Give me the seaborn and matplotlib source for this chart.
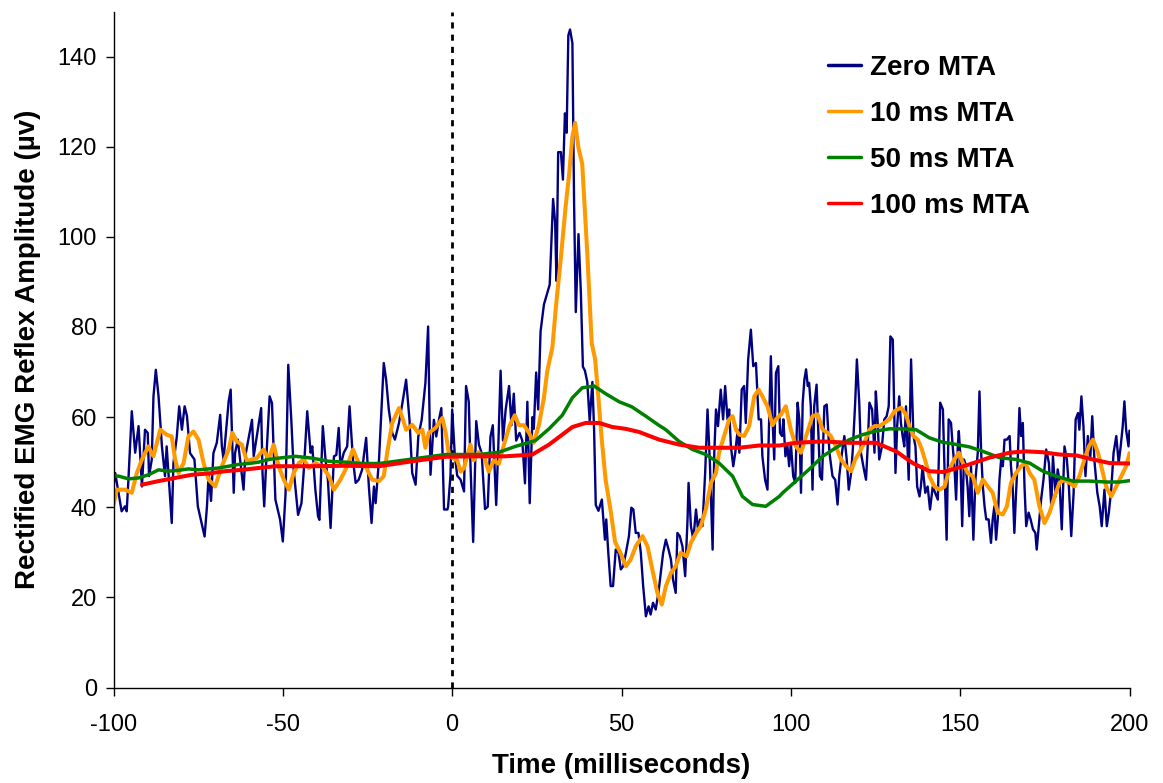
import matplotlib
matplotlib.use("Agg")
import matplotlib.pyplot as plt
import seaborn as sns
import numpy as np

# ---------------- data ----------------
zero_t = [-100.0, -99.5, -97.6, -96.6, -96.1, -95.6, -94.6, -93.6, -92.6, -91.6, -90.7, -89.9, -89.5, -88.7,
          -88.2, -87.5, -86.7, -85.7, -84.8, -84.3, -82.8, -82.3, -81.3, -80.6, -79.8, -79.0, -78.3, -77.4,
          -76.1, -75.1, -73.1, -72.4, -71.9, -71.2, -70.5, -69.5, -68.5, -68.0, -67.5, -66.0, -65.4, -64.5,
          -64.1, -63.3, -61.6, -61.1, -59.1, -58.6, -56.4, -56.0, -55.5, -54.7, -53.9, -53.2, -52.2, -50.8,
          -50.0, -49.2, -48.4, -47.5, -46.8, -45.5, -44.5, -43.8, -42.8, -41.8, -41.3, -40.4, -39.6, -39.2,
          -38.2, -37.4, -36.7, -35.9, -34.9, -34.2, -33.5, -33.0, -32.0, -31.0, -30.3, -29.3, -28.5, -27.6,
          -26.6, -25.4, -24.6, -23.8, -23.1, -22.6, -21.6, -20.2, -19.5, -18.7, -17.7, -16.9, -15.7, -14.7,
          -13.6, -12.6, -11.8, -10.8, -10.0, -9.0, -7.9, -7.1, -6.4, -5.4, -4.7, -3.9, -3.2, -2.4, -1.4,
          -1.2, -0.5, 0.0, 0.8, 1.5, 2.5, 3.5, 4.1, 4.9, 5.4, 6.2, 7.1, 7.9, 8.7, 9.7, 10.5, 11.3, 12.0,
          13.0, 13.6, 14.3, 15.0, 15.8, 16.8, 17.5, 18.2, 18.9, 19.9, 20.7, 21.5, 22.2, 22.9, 23.7, 24.1,
          24.8, 25.4, 26.1, 27.1, 28.1, 28.8, 29.8, 30.4, 30.8, 31.3, 32.1, 32.7, 33.3, 33.8, 34.3, 34.8,
          35.5, 36.0, 36.5, 37.3, 38.0, 38.6, 39.2, 39.9, 40.6, 41.4, 41.9, 42.4, 43.2,
          44.2, 45.1, 45.5, 46.1, 46.8, 47.5, 48.3, 49.1, 49.8, 50.5, 51.3, 52.2, 52.9, 53.5, 54.2, 55.0,
          55.7, 56.4, 57.2, 58.0, 58.6, 59.3, 60.1, 60.9, 61.6, 62.3, 63.1, 63.9, 64.6, 65.2, 66.0, 66.5,
          67.2, 68.0, 68.8, 69.5, 69.8, 70.5, 71.2, 72.0, 72.6, 73.2, 73.9, 74.7, 75.4, 76.1, 76.9, 77.4,
          77.9, 78.5, 79.3, 80.0, 80.6, 81.3, 81.8, 82.3, 83.0, 83.6, 84.3, 84.8, 85.5, 86.2, 86.7, 87.4,
          88.2, 88.9, 89.7, 90.5, 91.2, 91.6, 92.4, 93.1, 93.6, 94.1, 94.6, 95.1, 95.6, 96.3, 96.8, 97.4,
          97.8, 98.4, 99.0, 99.5, 100.0, 100.7, 101.3, 102.0, 102.5, 103.0, 103.5, 104.0, 104.5, 105.0,
          105.4, 105.9, 106.4, 106.9, 107.6, 108.2, 108.6, 109.2, 109.9, 110.6, 111.4, 112.3, 113.1, 113.8,
          114.3, 115.1, 115.8, 116.5, 117.1, 117.8, 118.3, 119.0, 119.5, 120.2, 120.7, 121.4, 122.2, 122.7,
          123.2, 124.0, 124.7, 125.1, 125.6, 126.1, 126.9, 127.6, 128.3, 128.9, 129.4, 130.1, 130.9, 131.4,
          132.0, 132.5, 133.0, 133.5, 134.0, 134.8, 135.5, 136.2, 136.8, 137.3, 138.0, 138.4, 138.9, 139.7,
          140.4, 141.1, 141.9, 142.6, 143.4, 144.1, 144.9, 145.3, 146.0, 146.6, 147.3, 147.8, 148.3, 148.8,
          149.3, 149.6, 150.0, 150.6, 151.1, 151.5, 152.2, 152.7, 153.2, 153.9, 154.5, 155.2, 155.7, 156.2,
          156.7, 157.2, 157.7, 158.4, 159.1, 159.6, 160.1, 160.6, 161.1, 161.6, 162.1, 162.6, 163.1, 163.8,
          164.6, 165.0, 165.5, 166.0, 166.5, 167.0, 167.5, 168.0, 168.5, 169.0, 169.5, 170.2, 170.8, 171.5,
          172.2, 172.6, 173.2, 173.9, 174.6, 175.4, 176.2, 176.9, 177.4, 178.2, 178.8, 179.3, 180.0, 180.8,
          181.5, 182.1, 182.8, 183.5, 184.1, 184.8, 185.2, 185.8, 186.4, 187.0, 187.7, 188.4, 189.0, 189.7,
          190.5, 191.2, 191.8, 192.6, 193.3, 193.9, 194.6, 195.3, 196.1, 196.8, 197.4, 198.0, 198.5, 199.0,
          199.7, 200.0]
zero_v = [44.6, 47.6, 39.1, 40.2, 39.1, 46.1, 61.3, 52.1, 58.0, 44.6, 57.2, 56.5, 46.9, 50.6,
          64.6, 70.5, 64.6, 53.5, 46.9, 53.5, 36.5, 49.8, 55.7, 62.4, 57.2, 62.4, 60.2, 52.0,
          50.6, 40.2, 33.5, 40.2, 47.6, 41.4, 52.0, 54.3, 60.5, 53.5, 50.6, 63.5, 66.1, 43.2,
          52.0, 55.0, 43.9, 51.3, 59.4, 51.3, 62.0, 47.6, 40.2, 53.5, 64.6, 63.1, 41.7, 37.2,
          32.4, 43.0, 71.6, 59.4, 48.3, 38.3, 40.9, 48.3, 61.3, 52.1, 53.5, 43.9, 38.0, 37.2,
          58.0, 50.6, 46.1, 35.4, 51.3, 51.6, 57.6, 49.1, 52.1, 53.5, 62.4, 50.6, 45.4, 46.1,
          48.3, 55.4, 44.6, 36.5, 44.6, 40.9, 50.6, 72.0, 68.3, 61.6, 56.5, 55.0, 58.7, 63.1,
          68.3, 59.4, 47.6, 45.0, 55.7, 59.4, 67.6, 80.1, 47.2, 59.4, 55.7, 59.4, 62.0, 39.5, 39.5,
          40.1, 47.0, 61.7, 51.3, 47.0, 46.1, 43.5, 66.9, 63.4, 49.6, 32.3, 59.1, 53.9, 52.0, 39.6, 40.1, 55.6, 58.2,
          40.5, 53.0, 70.3, 54.8, 61.7, 66.9, 58.2, 65.2, 54.8, 56.5, 54.8, 45.3, 63.4, 40.9, 60.0, 57.4,
          69.9, 61.7, 79.0, 85.0, 87.6, 89.4, 108.4, 103.2, 90.2, 118.8, 118.8, 112.7, 127.4, 123.1, 144.7, 146.0,
          143.0, 107.5, 83.3, 100.6, 87.6, 71.2, 70.3, 67.8, 59.1, 67.8, 57.4, 40.5, 39.2,
          41.7, 32.8, 37.3, 29.9, 22.5, 22.5, 30.6, 29.9, 26.2, 26.9, 29.9, 33.6, 39.9, 39.5, 34.3, 34.3,
          29.9, 22.5, 15.8, 18.0, 16.2, 18.8, 17.3, 21.0, 25.4, 29.9, 32.8, 30.6, 28.4, 24.0, 21.0, 34.3,
          33.6, 31.3, 24.7, 37.3, 45.4, 35.8, 32.8, 39.5, 35.0, 37.3, 35.8, 47.6, 61.7, 49.8, 30.6, 52.1,
          61.7, 58.0, 66.1, 59.5, 66.9, 59.5, 61.7, 53.5, 49.1, 52.1, 57.2, 52.1, 66.1, 66.9, 58.7, 72.8,
          79.4, 71.3, 72.0, 59.5, 59.5, 51.3, 46.1, 43.9, 59.5, 73.5, 59.5, 50.6, 69.8, 71.3, 56.5, 55.8,
          59.5, 51.3, 53.5, 49.1, 54.3, 46.9, 45.4, 63.2, 59.5, 43.2, 63.2, 68.3, 70.6, 66.9,
          67.6, 62.4, 43.9, 62.4, 67.2, 55.0, 46.9, 46.1, 62.4, 62.8, 52.1, 46.9, 46.1, 40.6,
          46.9, 52.1, 55.8, 50.6, 43.9, 47.6, 52.8, 63.2, 72.8, 63.2, 52.1, 49.1, 46.1, 53.5,
          63.2, 61.7, 52.1, 65.7, 59.5, 50.6, 53.5, 59.5, 60.2, 62.4, 77.9, 77.2, 47.6, 58.0,
          64.6, 58.7, 55.8, 53.5, 62.4, 46.1, 72.8, 55.8, 53.5, 44.6, 42.4, 44.6, 49.1, 43.2,
          44.6, 39.5, 44.6, 43.2, 41.7, 63.2, 61.7, 50.6, 32.8, 59.5, 58.7, 53.5, 49.1, 41.7,
          53.5, 56.9, 52.1, 35.8, 50.6, 49.8, 44.6, 38.0, 49.1, 32.8, 46.1, 52.1, 65.7, 52.1,
          44.6, 40.2, 37.3, 37.3, 32.1, 37.3, 40.2, 32.8, 37.3, 46.1, 50.6, 49.1, 55.0, 55.0,
          55.8, 49.1, 44.6, 34.3, 43.2, 50.6, 62.0, 55.8, 58.7, 44.6, 35.8, 38.8, 37.3, 35.1,
          34.3, 30.6, 35.8, 41.7, 46.1, 52.8, 49.8, 40.2, 51.3, 42.4, 48.4, 46.1, 35.1, 53.5,
          50.6, 44.6, 33.6, 43.2, 59.5, 60.9, 57.2, 64.6, 58.0, 46.9, 55.8, 50.6, 60.2, 49.8,
          43.2, 40.2, 35.8, 43.9, 35.8, 38.8, 43.9, 52.1, 55.8, 49.8, 53.5, 58.0, 63.5, 57.2,
          53.5, 57.0]

mta10_t = [-100.0, -99.0, -96.6, -94.6, -93.1, -91.6, -89.7, -88.2, -86.2, -84.3, -82.8, -81.8, -80.8,
           -79.3, -77.9, -76.4, -74.9, -73.4, -71.9, -70.0, -68.0, -66.0, -64.9, -63.6, -62.1, -60.6,
           -59.1, -57.7, -55.7, -54.2, -52.7, -51.2, -49.7, -48.2, -46.8, -45.3, -43.8, -42.3, -40.4,
           -38.4, -36.4, -34.9, -33.0, -31.0, -29.3, -27.6, -25.6, -23.6, -21.6, -20.2, -19.2, -17.7,
           -15.7, -14.5, -13.6, -11.8, -10.0, -8.8, -7.9, -6.9, -4.9, -2.9, -1.9, -1.0, 0.0, 1.5, 2.5,
           3.5, 4.4, 5.4, 6.4, 7.7, 9.4, 10.8, 12.3, 13.8, 15.3, 17.0, 18.5, 19.7, 21.2, 22.7, 24.1,
           25.6, 27.1, 28.1, 29.6, 30.6, 32.0, 33.5, 34.5, 35.5, 36.3, 37.3, 38.4, 39.9, 41.2, 42.2,
           42.9, 44.1, 45.3, 46.8, 48.1, 49.8, 51.3, 52.7, 54.2, 56.2, 57.7, 59.1, 60.6, 61.9, 63.1,
           64.6, 66.0, 67.5, 69.2, 70.5, 72.0, 73.4, 74.9, 76.4, 77.9, 78.8, 80.3, 81.8, 82.8, 83.8,
           84.8, 86.2, 87.7, 89.2, 90.5, 91.6, 93.1, 94.6, 95.6, 97.1, 98.5, 100.0, 101.5, 103.0,
           104.5, 106.4, 107.9, 109.4, 110.9, 111.8, 113.3, 114.8, 116.3, 117.8, 119.0, 120.2, 121.7,
           123.2, 124.7, 126.1, 127.6, 129.1, 130.6, 132.5, 134.0, 135.0, 136.2, 137.5, 138.7, 139.9,
           140.9, 142.4, 143.9, 145.4, 146.8, 148.3, 149.6, 150.8, 152.2, 153.7, 155.2, 156.7, 158.2,
           159.6, 161.1, 162.6, 163.8, 165.0, 166.5, 168.0, 169.3, 170.5, 171.9, 173.4, 174.9, 176.4,
           177.9, 179.3, 180.8, 182.3, 183.8, 185.2, 186.7, 188.0, 189.2, 190.7, 191.9, 193.1, 194.6,
           196.1, 197.6, 199.0, 200.0]
mta10_v = [40.6, 43.9, 43.9, 43.2, 47.6, 50.6, 53.5, 51.3, 57.2, 56.1, 55.7, 50.6, 47.6,
           49.8, 55.7, 56.8, 55.0, 49.8, 46.1, 44.6, 49.1, 52.8, 56.5, 54.6, 53.9, 50.2,
           50.6, 50.9, 52.8, 50.6, 53.9, 49.0, 46.1, 43.9, 47.6, 49.8, 50.6, 48.7, 49.8,
           49.1, 46.9, 43.9, 46.1, 49.1, 52.8, 49.8, 49.1, 46.1, 45.8, 46.9, 52.0, 58.7,
           62.0, 59.4, 57.2, 58.3, 56.5, 57.2, 53.2, 56.5, 57.6, 59.8, 56.5, 52.0, 51.0, 50.4, 47.9,
           48.7, 51.3, 53.9, 50.4, 52.2, 51.3, 47.9, 50.4, 49.6, 53.9, 58.2, 60.4, 58.2, 58.2, 56.5, 54.3,
           58.2, 64.3, 70.3, 75.5, 84.2, 94.6, 106.7, 113.6, 122.2, 125.3, 119.7, 116.2, 96.3, 76.4, 72.9,
           66.9, 55.6, 46.1, 39.2, 32.3, 29.7, 26.9, 28.4, 31.3, 33.6, 31.3, 26.2, 21.0, 18.4, 22.5,
           25.4, 26.9, 29.9, 29.1, 32.1, 34.3, 35.8, 39.5, 45.4, 47.6, 52.1, 55.8, 59.5, 60.2, 57.2,
           56.1, 55.8, 58.0, 64.6, 66.1, 64.6, 62.4, 58.2, 59.5, 60.6, 62.4, 57.2, 53.5, 52.1,
           55.8, 60.2, 60.6, 57.2, 56.5, 55.8, 53.5, 50.6, 49.1, 48.0, 50.6, 52.1, 54.3,
           57.2, 58.0, 58.0, 58.7, 59.5, 61.3, 62.1, 60.6, 58.0, 55.8, 55.0, 52.8, 49.8,
           46.9, 44.6, 43.9, 44.6, 48.4, 50.6, 52.1, 49.8, 47.6, 46.9, 43.2, 46.1, 44.6,
           43.2, 38.8, 38.4, 40.2, 45.4, 47.6, 49.1, 49.8, 47.6, 46.1, 40.2, 36.5, 38.8,
           42.4, 45.4, 46.1, 45.4, 44.6, 46.9, 50.6, 53.5, 55.0, 52.1, 48.4, 44.6, 42.4,
           44.6, 46.9, 49.1, 52.0]

mta50_t = [-100.0, -98.5, -95.6, -92.6, -89.7, -86.7, -83.8, -80.8, -77.9, -74.9, -71.9, -69.0, -66.0,
           -63.1, -60.1, -57.2, -54.2, -51.2, -46.3, -41.4, -36.4, -31.5, -26.6, -21.6, -16.7, -11.8,
           -6.9, -1.9, 2.0, 7.9, 13.8, 18.7, 24.6, 28.6, 32.5, 35.5, 38.4, 41.9, 45.3, 49.3, 53.0, 57.0,
           61.0, 63.1, 67.0, 71.0, 74.9, 78.8, 82.8, 85.7, 88.7, 92.6, 96.6, 97.6, 101.5, 105.4, 109.4,
           113.3, 117.3, 121.2, 125.1, 129.1, 133.0, 137.0, 140.9, 144.9, 146.8, 152.7, 156.7, 161.6,
           166.5, 170.5, 174.4, 178.3, 183.3, 188.2, 193.1, 197.1, 200.0]
mta50_v = [47.0, 46.9, 46.3, 46.5, 47.2, 48.3, 48.0, 48.2, 48.5, 48.3, 48.5, 48.7, 49.1,
           49.5, 49.7, 50.0, 50.6, 50.9, 51.3, 50.9, 50.2, 50.0, 49.7, 49.7, 50.2, 50.7,
           51.2, 51.7, 51.7, 51.7, 52.2, 53.5, 54.8, 57.4, 60.4, 64.3, 66.5, 66.9, 65.2, 63.4, 62.3, 60.3,
           58.2, 57.2, 54.6, 52.8, 51.7, 49.8, 46.9, 42.4, 40.6, 40.2, 42.4, 43.2, 45.8, 48.4, 51.3,
           53.2, 55.0, 56.1, 56.9, 57.4, 57.4, 57.2, 55.4, 54.4, 54.2, 53.4, 52.4, 51.0,
           50.6, 49.8, 48.0, 46.9, 45.8, 45.8, 45.6, 45.6, 45.9]

mta100_t = [-91.6, -86.7, -81.8, -76.9, -71.9, -67.0, -62.1, -57.2, -52.2, -41.4, -31.5, -21.6, -11.8,
            -1.9, 6.0, 15.8, 23.7, 28.6, 32.5, 35.5, 39.4, 43.4, 47.3, 51.2, 55.2, 61.1, 67.0, 72.9,
            78.8, 84.8, 90.7, 96.6, 101.5, 109.4, 117.3, 125.1, 131.1, 136.0, 140.9, 144.9, 146.8,
            152.7, 158.6, 164.6, 169.5, 174.4, 179.3, 184.3, 189.2, 194.1, 200.0]
mta100_v = [45.0, 45.8, 46.5, 47.2, 47.5, 48.0, 48.3, 48.7, 49.1, 49.1, 49.2, 49.1, 50.2,
            51.2, 51.3, 51.3, 51.7, 53.9, 56.1, 57.8, 58.7, 58.7, 57.8, 57.4, 56.7, 55.0, 53.9, 53.2,
            53.2, 53.2, 53.7, 53.7, 54.3, 54.6, 54.3, 54.3, 52.4, 49.8, 48.0, 47.8, 48.2,
            49.5, 51.0, 52.1, 52.4, 52.2, 51.7, 51.5, 50.6, 49.8, 49.7]

series_labels = ["Zero MTA", "10 ms MTA", "50 ms MTA", "100 ms MTA"]
x_ticks = [-100, -50, 0, 50, 100, 150, 200]
y_ticks = [0, 20, 40, 60, 80, 100, 120, 140]

# ---------------- style ----------------
sns.set_style("ticks")
plt.rcParams["font.family"] = ["Liberation Sans", "DejaVu Sans"]
plt.rcParams["axes.unicode_minus"] = False
plt.rcParams["text.color"] = "black"
plt.rcParams["axes.labelcolor"] = "black"

W, H = 1163, 783
fig = plt.figure(figsize=(W / 100, H / 100), dpi=100)
ax = fig.add_axes([113.5 / W, 1 - 687.5 / H, (1129.5 - 113.5) / W, (687.5 - 11.5) / H])

series = [
    (zero_t, zero_v, "#000080", 1.7),
    (mta10_t, mta10_v, "#FF9900", 2.9),
    (mta50_t, mta50_v, "#008000", 2.5),
    (mta100_t, mta100_v, "#FF0000", 2.9),
]
for (t, v, c, lw), lab in zip(series, series_labels):
    sns.lineplot(x=t, y=v, ax=ax, color=c, linewidth=lw, label=lab,
                 sort=False, estimator=None)

ax.axvline(0, color="black", linewidth=2.0, linestyle=(0, (2.2, 2.2)), zorder=1)

ax.set_xlim(-100, 200)
ax.set_ylim(0, 150)
ax.set_xticks(x_ticks)
ax.set_yticks(y_ticks)
ax.tick_params(axis="both", labelsize=17, direction="out", length=6, width=1,
               colors="black", labelcolor="black")
ax.tick_params(axis="x", pad=13)
ax.tick_params(axis="y", pad=6)
for s in ["top", "right"]:
    ax.spines[s].set_visible(False)
for s in ["left", "bottom"]:
    ax.spines[s].set_linewidth(1.0)
    ax.spines[s].set_color("black")

ax.set_xlabel("Time (milliseconds)", fontsize=20, fontweight="bold", labelpad=12, color="black")
ax.set_ylabel("Rectified EMG Reflex Amplitude (µv)", fontsize=20, fontweight="bold", labelpad=12,
              color="black")

leg = ax.legend(loc="upper left", bbox_to_anchor=(828 / W, 1 - 55 / H),
                bbox_transform=fig.transFigure, frameon=False,
                prop={"weight": "bold", "size": 20}, handlelength=1.2,
                handletextpad=0.3, labelspacing=0.72, borderpad=0, borderaxespad=0)
for line in leg.get_lines():
    line.set_linewidth(2.5)
for txt in leg.get_texts():
    txt.set_color("black")

fig.savefig("out.png", dpi=100)
